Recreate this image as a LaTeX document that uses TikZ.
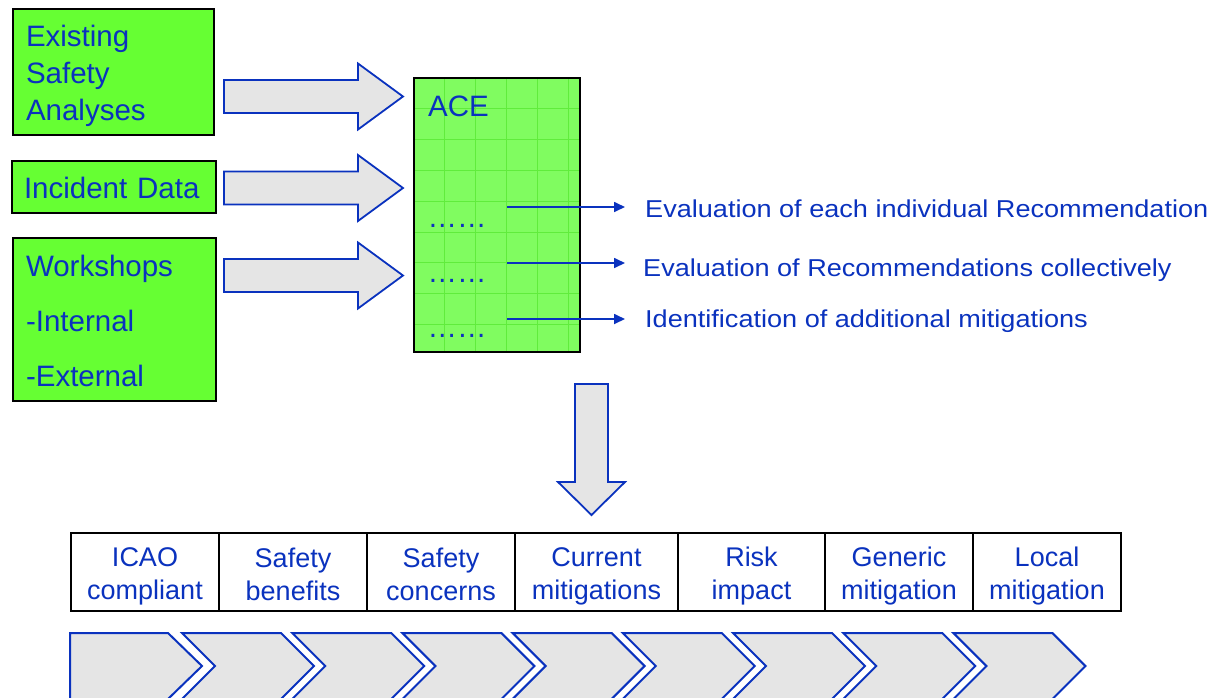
\documentclass[tikz,border=0pt]{standalone}
\usepackage{fontspec}
\setmainfont{Liberation Sans}
\newfontfamily\widesans{Liberation Sans}[FakeStretch=1.11]
\usetikzlibrary{arrows.meta,calc}

\definecolor{inkblue}{RGB}{10,50,190}
\definecolor{boxgreen}{RGB}{102,255,51}
\definecolor{acegreen}{RGB}{128,252,96}
\definecolor{gridgreen}{RGB}{96,236,60}
\definecolor{arrowgray}{RGB}{229,229,229}

% fixed line heights so that multi-line texts sit on set baselines
\newcommand\topline[1]{\rule{0pt}{#1pt}}
\newcommand\botline[1]{\rule[-#1pt]{0pt}{#1pt}}

\begin{document}
\begin{tikzpicture}[x=1pt,y=-1pt,
  every node/.style={text=inkblue},
  srcbox/.style={draw=black, line width=2pt, fill=boxgreen, anchor=north west,
    align=left, inner xsep=13pt, inner ysep=0pt},
  bigfont/.style={font=\fontsize{29.5}{37}\selectfont},
  notefont/.style={font=\widesans\fontsize{24.4}{28}\selectfont},
  cell/.style={draw=black, line width=2pt, minimum height=78pt, anchor=north west,
    align=center, inner sep=0pt, font=\fontsize{27}{33}\selectfont},
  blockarrow/.style={draw=inkblue, fill=arrowgray, line width=1.8pt, line join=miter},
  chev/.style={draw=inkblue, fill=arrowgray, line width=2pt, line join=miter},
  conn/.style={draw=inkblue, line width=1.7pt, -{Triangle[length=11pt,width=10pt]}},
  rarrow/.pic={\draw[blockarrow] (0,-16.5) -- (134,-16.5) -- (134,-33) -- (179,0)
    -- (134,33) -- (134,16.5) -- (0,16.5) -- cycle;},
  darrow/.pic={\draw[blockarrow] (-16.5,0) -- (16.5,0) -- (16.5,98) -- (33.5,98)
    -- (0,131) -- (-33.5,98) -- (-16.5,98) -- cycle;}
]
\useasboundingbox (0,0) rectangle (1220,697);

% input sources
\node[srcbox, bigfont, text width=175pt, minimum height=126pt] (src1) at (12,8)
  {\topline{30}Existing\\Safety\\Analyses\botline{6}};
\node[srcbox, bigfont, text width=180pt, minimum height=52pt, inner xsep=12pt] (src2) at (11,160)
  {\topline{28}Incident Data\botline{6}};
\node[srcbox, font=\fontsize{29.5}{55}\selectfont, text width=177pt, minimum height=163pt] (src3) at (12,237)
  {\topline{30}Workshops\\-Internal\\-External\botline{7}};

% block arrows into ACE
\pic at (224,96.5) {rarrow};
\pic at (224,188) {rarrow};
\pic at (224,275.5) {rarrow};

% ACE panel with its grid
\node[fill=acegreen, minimum width=166pt, minimum height=274pt, anchor=north west,
  inner sep=0pt] (ace) at (414,78) {};
\begin{scope}
  \clip (ace.north west) rectangle (ace.south east);
  \foreach \i in {1,...,5}
    \draw[gridgreen, line width=1pt] (414+30.8*\i,78) -- ++(0,274);
  \foreach \j in {1,...,8}
    \draw[gridgreen, line width=1pt] (414,78+30.8*\j) -- ++(166,0);
\end{scope}
\draw[black, line width=2pt] (ace.north west) rectangle (ace.south east);

\node[anchor=base west, inner sep=0pt, bigfont] (acetitle) at (428,116) {ACE};
\node[anchor=base west, inner sep=0pt, bigfont] (dots1) at (427.5,227) {……};
\node[anchor=base west, inner sep=0pt, bigfont] (dots2) at (427.5,282) {……};
\node[anchor=base west, inner sep=0pt, bigfont] (dots3) at (427.5,337.5) {……};

% outcomes
\coordinate (e1) at (507,207);
\coordinate (e2) at (507,263);
\coordinate (e3) at (507,319);
\node[anchor=base west, inner sep=0pt, notefont] (t1) at (645,217)
  {Evaluation of each individual Recommendation};
\node[anchor=base west, inner sep=0pt, notefont] (t2) at (643,276)
  {Evaluation of Recommendations collectively};
\node[anchor=base west, inner sep=0pt, notefont] (t3) at (645,327)
  {Identification of additional mitigations};
\draw[conn] (e1) -- ([xshift=-20pt]e1 -| t1.west);
\draw[conn] (e2) -- ([xshift=-18pt]e2 -| t2.west);
\draw[conn] (e3) -- ([xshift=-20pt]e3 -| t3.west);

% downward block arrow
\pic at (591.5,384) {darrow};

% criteria table
\node[cell, minimum width=148pt] (c1) at (70,532) {\topline{28}ICAO\\compliant\botline{5}};
\node[cell, minimum width=148pt] (c2) at (218,532) {\topline{28}Safety\\benefits\botline{5}};
\node[cell, minimum width=148pt] (c3) at (366,532) {\topline{28}Safety\\concerns\botline{5}};
\node[cell, minimum width=163pt] (c4) at (514,532) {\topline{28}Current\\mitigations\botline{5}};
\node[cell, minimum width=147pt] (c5) at (677,532) {\topline{28}Risk\\impact\botline{5}};
\node[cell, minimum width=148pt] (c6) at (824,532) {\topline{28}Generic\\mitigation\botline{5}};
\node[cell, minimum width=148pt] (c7) at (972,532) {\topline{28}Local\\mitigation\botline{5}};

% process chevrons
\begin{scope}
  \clip (0,0) rectangle (1220,697);
  \draw[chev] (70,633) -- (168,633) -- (202,666) -- (168,699) -- (70,699) -- cycle;
  \foreach \k in {0,...,7} {
    \pgfmathsetmacro\L{182+110.2*\k}
    \draw[chev] (\L,633) -- ++(99,0) -- ++(33,33) -- ++(-33,33) -- ++(-99,0)
      -- ++(33,-33) -- cycle;
  }
\end{scope}
\end{tikzpicture}
\end{document}
